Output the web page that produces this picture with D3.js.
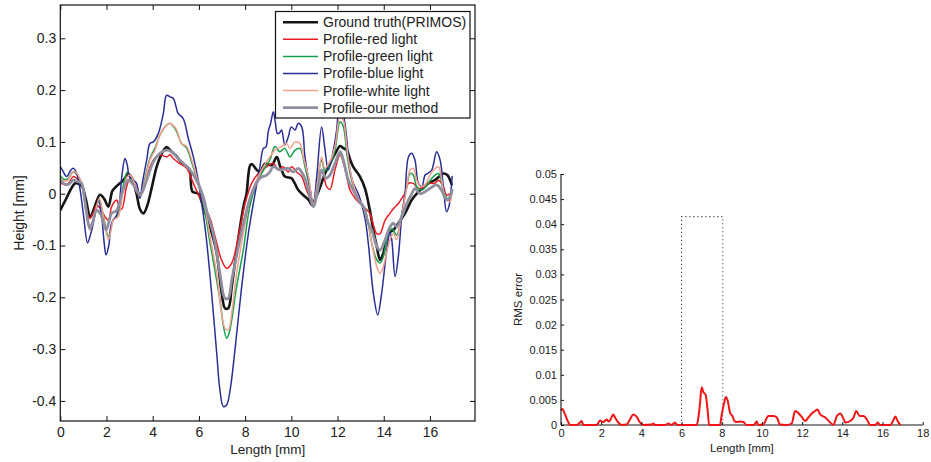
<!DOCTYPE html>
<html>
<head>
<meta charset="utf-8">
<script src="https://cdn.jsdelivr.net/npm/d3@7"></script>
<style>
  html, body { margin: 0; padding: 0; background: #fff; }
  svg { display: block; font-family: "Liberation Sans", Arial, sans-serif; }
  .tick text { fill: #222; }
</style>
</head>
<body>
<svg id="chart" width="931" height="462"></svg>
<script>
// ---- Profile data: [length (mm), height (mm)] ----
const groundTruth = [[0,-0.032],[0.25,-0.01],[0.5,0.012],[0.65,0.02],[0.92,0.015],[1.1,-0.01],[1.3,-0.045],[1.45,-0.03],[1.72,-0.002],[1.9,-0.01],[2.08,-0.025],[2.25,0.005],[2.4,0.013],[2.73,0.026],[2.95,0.038],[3.1,0.03],[3.3,0.0],[3.45,-0.03],[3.6,-0.038],[3.75,-0.025],[3.95,0.01],[4.17,0.052],[4.4,0.078],[4.6,0.09],[4.8,0.082],[5.04,0.072],[5.25,0.06],[5.47,0.052],[5.6,0.046],[5.72,0.004],[5.97,0.0],[6.15,-0.02],[6.33,-0.044],[6.55,-0.075],[6.77,-0.115],[6.98,-0.19],[7.13,-0.221],[7.27,-0.221],[7.42,-0.18],[7.6,-0.12],[7.78,-0.064],[7.95,-0.02],[8.06,0.0],[8.15,0.04],[8.22,0.055],[8.3,0.057],[8.5,0.046],[8.65,0.042],[8.86,0.058],[9.15,0.055],[9.37,0.071],[9.5,0.055],[9.58,0.046],[9.72,0.033],[10.0,0.03],[10.15,0.02],[10.3,0.007],[10.6,-0.006],[10.75,-0.012],[10.9,-0.022],[11.05,-0.008],[11.2,0.007],[11.46,0.039],[11.75,0.065],[11.95,0.082],[12.11,0.092],[12.25,0.088],[12.4,0.084],[12.55,0.065],[12.68,0.052],[12.97,0.033],[13.19,0.01],[13.4,-0.032],[13.55,-0.07],[13.7,-0.102],[13.84,-0.128],[13.98,-0.115],[14.2,-0.077],[14.42,-0.07],[14.63,-0.057],[14.92,-0.038],[15.21,-0.012],[15.43,0.0],[15.65,0.01],[15.93,0.02],[16.2,0.026],[16.4,0.033],[16.58,0.039],[16.75,0.036],[16.94,0.018]];

const redLight = [[0,0.02],[0.2,0.018],[0.35,0.02],[0.56,0.033],[0.7,0.03],[0.92,0.02],[1.05,-0.01],[1.21,-0.044],[1.28,-0.048],[1.45,-0.035],[1.57,-0.022],[1.75,-0.03],[1.93,-0.044],[2.08,-0.051],[2.22,-0.025],[2.35,-0.015],[2.44,-0.012],[2.55,-0.025],[2.66,-0.03],[2.87,0.0135],[3.02,0.03],[3.2,0.02],[3.45,0.0],[3.74,0.033],[4.03,0.065],[4.31,0.075],[4.6,0.071],[4.75,0.075],[4.89,0.068],[5.18,0.058],[5.47,0.049],[5.76,0.02],[6.05,-0.008],[6.33,-0.032],[6.5,-0.05],[6.7,-0.083],[6.98,-0.128],[7.2,-0.144],[7.42,-0.134],[7.71,-0.083],[8.0,-0.019],[8.28,0.02],[8.57,0.039],[8.93,0.052],[9.22,0.0586],[9.44,0.046],[9.65,0.052],[9.87,0.042],[10.01,0.052],[10.23,0.042],[10.45,0.033],[10.66,0.007],[10.95,-0.019],[11.1,0.0135],[11.31,0.046],[11.53,0.0135],[11.67,0.008],[11.89,0.046],[12.11,0.075],[12.25,0.06],[12.4,0.033],[12.54,0.007],[12.76,-0.009],[12.97,-0.019],[13.19,-0.028],[13.4,-0.038],[13.55,-0.06],[13.7,-0.077],[13.84,-0.077],[14.06,-0.051],[14.27,-0.038],[14.4,-0.03],[14.5,-0.025],[14.63,-0.019],[14.78,-0.009],[14.92,0.0],[15.07,0.02],[15.28,0.02],[15.5,0.01],[15.7,0.012],[15.93,0.02],[16.2,0.02],[16.37,0.026],[16.58,0.0135],[16.72,-0.003],[16.87,0.0]];

const greenLight = [[0,0.035],[0.15,0.028],[0.3,0.028],[0.56,0.042],[0.7,0.038],[0.92,0.02],[1.1,-0.03],[1.28,-0.064],[1.4,-0.055],[1.5,-0.038],[1.69,-0.012],[1.85,-0.04],[2.08,-0.083],[2.2,-0.065],[2.29,-0.05],[2.51,-0.041],[2.7,0.01],[2.9,0.042],[3.02,0.033],[3.3,0.008],[3.45,-0.003],[3.67,0.03],[3.88,0.068],[4.1,0.088],[4.31,0.113],[4.53,0.129],[4.75,0.136],[4.89,0.13],[5.04,0.12],[5.25,0.097],[5.47,0.088],[5.69,0.06],[5.9,0.03],[6.12,-0.005],[6.3,-0.045],[6.48,-0.095],[6.7,-0.15],[6.91,-0.205],[7.06,-0.255],[7.2,-0.279],[7.3,-0.27],[7.42,-0.244],[7.63,-0.18],[7.92,-0.109],[8.2,-0.025],[8.5,0.02],[8.79,0.045],[9.07,0.065],[9.29,0.091],[9.5,0.081],[9.72,0.0875],[9.94,0.071],[10.16,0.084],[10.37,0.0875],[10.59,0.052],[10.78,0.015],[10.95,-0.022],[11.15,0.03],[11.31,0.065],[11.45,0.045],[11.67,0.055],[11.89,0.084],[12.11,0.139],[12.25,0.13],[12.4,0.078],[12.54,0.04],[12.76,0.005],[12.97,-0.015],[13.19,-0.03],[13.3,-0.05],[13.5,-0.1],[13.7,-0.128],[13.84,-0.134],[13.98,-0.122],[14.2,-0.077],[14.35,-0.067],[14.56,-0.08],[14.78,-0.038],[15.0,0.0135],[15.14,0.039],[15.28,0.036],[15.43,0.0135],[15.65,0.007],[15.85,0.015],[16.08,0.03],[16.37,0.039],[16.58,0.007],[16.8,-0.012],[16.94,0.0]];

const blueLight = [[0,0.052],[0.1,0.045],[0.27,0.033],[0.45,0.045],[0.56,0.049],[0.7,0.04],[0.85,0.01],[1.0,-0.04],[1.18,-0.095],[1.3,-0.08],[1.43,-0.057],[1.55,-0.03],[1.65,-0.012],[1.79,-0.044],[1.9,-0.095],[1.98,-0.118],[2.1,-0.1],[2.22,-0.057],[2.44,-0.041],[2.55,-0.02],[2.68,0.04],[2.8,0.068],[2.9,0.055],[2.99,0.033],[3.15,0.027],[3.3,0.02],[3.45,-0.009],[3.55,0.02],[3.74,0.065],[3.88,0.097],[4.03,0.1],[4.24,0.116],[4.46,0.155],[4.6,0.19],[4.75,0.187],[4.89,0.184],[5.0,0.17],[5.1,0.155],[5.32,0.145],[5.54,0.107],[5.76,0.071],[5.97,0.026],[6.19,-0.04],[6.33,-0.09],[6.55,-0.192],[6.77,-0.308],[6.91,-0.379],[7.06,-0.411],[7.2,-0.408],[7.35,-0.379],[7.56,-0.302],[7.85,-0.18],[8.14,-0.077],[8.43,0.0],[8.64,0.052],[8.79,0.0875],[8.9,0.09],[9.0,0.12],[9.1,0.135],[9.22,0.158],[9.3,0.14],[9.4,0.116],[9.5,0.118],[9.58,0.123],[9.72,0.094],[9.87,0.11],[10.0,0.129],[10.16,0.123],[10.3,0.136],[10.45,0.129],[10.59,0.071],[10.8,0.0135],[10.95,-0.022],[11.1,0.033],[11.31,0.129],[11.45,0.0875],[11.6,0.046],[11.82,0.084],[11.96,0.123],[12.05,0.16],[12.15,0.17],[12.32,0.136],[12.54,0.046],[12.68,0.02],[12.9,0.0],[13.19,-0.048],[13.33,-0.095],[13.55,-0.192],[13.74,-0.234],[13.91,-0.192],[14.13,-0.109],[14.27,-0.075],[14.35,-0.09],[14.49,-0.16],[14.63,-0.122],[14.78,-0.044],[14.92,0.0],[15.07,0.071],[15.21,0.078],[15.35,0.065],[15.5,0.02],[15.65,0.0135],[15.79,0.036],[15.93,0.04],[16.08,0.046],[16.29,0.081],[16.44,0.065],[16.58,0.0135],[16.72,-0.035],[16.82,-0.025],[16.9,0.0],[16.96,0.033]];

const whiteLight = [[0,0.03],[0.15,0.025],[0.3,0.025],[0.56,0.042],[0.7,0.04],[0.92,0.02],[1.1,-0.03],[1.28,-0.07],[1.4,-0.058],[1.5,-0.038],[1.69,-0.009],[1.85,-0.04],[2.08,-0.089],[2.2,-0.07],[2.29,-0.051],[2.51,-0.044],[2.7,0.0],[2.9,0.033],[3.02,0.036],[3.3,0.01],[3.45,-0.003],[3.67,0.026],[3.88,0.065],[4.1,0.084],[4.31,0.113],[4.53,0.129],[4.75,0.136],[4.89,0.132],[5.04,0.123],[5.25,0.097],[5.47,0.091],[5.69,0.065],[5.9,0.033],[6.12,0.0],[6.3,-0.035],[6.48,-0.083],[6.77,-0.154],[6.98,-0.231],[7.13,-0.26],[7.27,-0.263],[7.42,-0.231],[7.63,-0.154],[7.92,-0.077],[8.2,-0.012],[8.43,0.02],[8.64,0.039],[8.79,0.052],[9.07,0.071],[9.3,0.085],[9.58,0.091],[9.8,0.097],[9.94,0.0875],[10.16,0.1],[10.37,0.097],[10.52,0.071],[10.74,0.033],[10.95,-0.019],[11.17,0.033],[11.31,0.071],[11.45,0.049],[11.67,0.062],[11.89,0.091],[12.11,0.149],[12.25,0.142],[12.4,0.091],[12.54,0.046],[12.76,0.007],[12.97,-0.015],[13.19,-0.032],[13.3,-0.05],[13.5,-0.1],[13.7,-0.141],[13.84,-0.154],[13.98,-0.141],[14.27,-0.089],[14.42,-0.077],[14.56,-0.089],[14.71,-0.057],[14.85,-0.025],[15.0,0.0135],[15.14,0.046],[15.28,0.049],[15.43,0.026],[15.6,0.0135],[15.79,0.017],[16.0,0.036],[16.23,0.049],[16.37,0.052],[16.58,0.007],[16.72,-0.012],[16.87,-0.015],[16.94,0.0]];

const ourMethod = [[0,0.026],[0.2,0.018],[0.35,0.018],[0.56,0.026],[0.7,0.024],[0.92,0.02],[1.05,-0.01],[1.21,-0.057],[1.28,-0.067],[1.4,-0.055],[1.57,-0.032],[1.75,-0.04],[1.98,-0.07],[2.1,-0.055],[2.22,-0.038],[2.44,-0.032],[2.7,0.005],[2.94,0.026],[3.15,0.018],[3.45,-0.003],[3.74,0.026],[4.03,0.062],[4.31,0.078],[4.6,0.084],[4.82,0.081],[5.04,0.071],[5.32,0.0586],[5.61,0.046],[5.9,0.026],[6.19,-0.006],[6.33,-0.032],[6.62,-0.077],[6.91,-0.154],[7.13,-0.202],[7.27,-0.202],[7.42,-0.167],[7.71,-0.102],[8.0,-0.044],[8.28,0.0],[8.64,0.03],[8.93,0.036],[9.07,0.042],[9.22,0.052],[9.5,0.046],[9.87,0.049],[10.08,0.042],[10.3,0.049],[10.52,0.036],[10.74,0.007],[10.95,-0.025],[11.17,0.0135],[11.31,0.046],[11.5,0.03],[11.67,0.036],[11.89,0.0586],[12.11,0.081],[12.25,0.065],[12.47,0.026],[12.68,0.007],[12.9,-0.012],[13.12,-0.025],[13.33,-0.057],[13.48,-0.07],[13.7,-0.102],[13.84,-0.109],[14.06,-0.089],[14.27,-0.064],[14.42,-0.057],[14.56,-0.064],[14.78,-0.044],[15.0,-0.019],[15.21,0.0],[15.35,0.01],[15.57,0.0],[15.79,0.004],[16.0,0.01],[16.29,0.017],[16.5,0.007],[16.72,-0.012],[16.87,-0.006],[16.96,0.007]];

// ---- RMS error of our method along the profile ----
const rmsError = [[0,0.0029],[0.07,0.0032],[0.2,0.0021],[0.37,0.0005],[0.45,0],[0.78,0],[0.95,0.0005],[1.03,0.0008],[1.11,0],[1.78,0],[1.94,0.0009],[2.1,0.0006],[2.27,0.0011],[2.36,0.0007],[2.44,0.0009],[2.6,0.0021],[2.69,0.0015],[2.85,0.0005],[3.02,0],[3.27,0.0001],[3.43,0.0011],[3.6,0.0021],[3.77,0.0016],[3.93,0.0005],[4.1,0],[4.51,0.0001],[4.6,0.0003],[4.68,0],[5.18,0],[5.34,0.0003],[5.5,0],[5.67,0.0005],[5.8,0],[6.75,0],[6.84,0.0015],[6.92,0.0044],[7.0,0.0075],[7.08,0.0066],[7.2,0.006],[7.3,0.0028],[7.37,0],[7.91,0],[8.0,0.0021],[8.13,0.0046],[8.21,0.0056],[8.3,0.0048],[8.41,0.0025],[8.53,0.0018],[8.63,0.0008],[8.74,0.0006],[8.91,0.0007],[9.08,0.0006],[9.24,0],[9.6,0],[9.74,0.0007],[9.82,0],[10.07,0.0001],[10.32,0.0018],[10.57,0.0018],[10.74,0.0015],[10.9,0.0001],[11.23,0],[11.48,0.0003],[11.65,0.0028],[11.81,0.0024],[11.98,0.0016],[12.15,0.0008],[12.31,0.0015],[12.48,0.0023],[12.65,0.0028],[12.76,0.0031],[12.9,0.0021],[13.15,0.0015],[13.4,0.0005],[13.56,0],[13.73,0.0018],[13.9,0.0023],[14.03,0.0015],[14.15,0.0005],[14.4,0.0008],[14.56,0.0015],[14.69,0.0028],[14.86,0.0018],[15.06,0.0018],[15.22,0.0011],[15.39,0],[15.64,0],[15.76,0.0005],[15.89,0],[16.39,0],[16.52,0.0008],[16.64,0.0017],[16.75,0.0008],[16.89,0]];

// Highlighted region around the deepest groove
const grooveSpan = [6, 8.05];
const grooveTop = 0.0415;

// ---- Axis ticks and labels ----
const profileXTicks = [0, 2, 4, 6, 8, 10, 12, 14, 16];
const profileYTicks = [-0.4, -0.3, -0.2, -0.1, 0, 0.1, 0.2, 0.3];
const profileYLabels = ["-0.4", "-0.3", "-0.2", "-0.1", "0", "0.1", "0.2", "0.3"];
const rmsXTicks = [0, 2, 4, 6, 8, 10, 12, 14, 16, 18];
const rmsYTicks = [0, 0.005, 0.01, 0.015, 0.02, 0.025, 0.03, 0.035, 0.04, 0.045, 0.05];
const rmsYLabels = ["0", "0.005", "0.01", "0.015", "0.02", "0.025", "0.03", "0.035", "0.04", "0.045", "0.05"];

const seriesNames = ["Ground truth(PRIMOS)", "Profile-red light", "Profile-green light", "Profile-blue light", "Profile-white light", "Profile-our method"];
const seriesData = [groundTruth, redLight, greenLight, blueLight, whiteLight, ourMethod];
const seriesColors = ["#151515", "#ec1c24", "#12a04a", "#2a2f95", "#f5a08e", "#8f8f9f"];
const seriesWidths = [2.6, 1.5, 1.5, 1.5, 1.5, 2.8];

const svg = d3.select("#chart");

// ================= Left panel: height profiles =================
const xL = d3.scaleLinear().domain([0, 17.95]).range([60.3, 475]);
const yL = d3.scaleLinear().domain([-0.4388, 0.3643]).range([421, 5]);

const left = svg.append("g");
left.append("defs").append("clipPath").attr("id", "clipL")
  .append("rect")
  .attr("x", xL.range()[0]).attr("y", yL.range()[1])
  .attr("width", xL.range()[1] - xL.range()[0])
  .attr("height", yL.range()[0] - yL.range()[1]);

const lineL = d3.line()
  .x(d => xL(d[0])).y(d => yL(d[1]))
  .curve(d3.curveCatmullRom.alpha(0.5));

const plotL = left.append("g").attr("clip-path", "url(#clipL)");
seriesData.forEach((data, i) => {
  plotL.append("path")
    .datum(data)
    .attr("d", lineL)
    .attr("fill", "none")
    .attr("stroke", seriesColors[i])
    .attr("stroke-width", seriesWidths[i])
    .attr("stroke-linejoin", "round")
    .attr("stroke-linecap", "round");
});

function styleAxis(g, fontSize) {
  g.select(".domain").remove();
  g.selectAll(".tick line").attr("stroke", "#111").attr("stroke-width", 1);
  g.selectAll(".tick text").attr("font-size", fontSize).attr("fill", "#222");
}

// bottom / left with labels, top / right mirrored ticks only
left.append("g").attr("transform", `translate(0,${yL.range()[0]})`)
  .call(d3.axisBottom(xL).tickValues(profileXTicks).tickFormat(d3.format("d"))
    .tickSizeInner(-5).tickSizeOuter(0).tickPadding(6))
  .call(g => styleAxis(g, 14))
  .call(g => g.attr("font-family", null));
left.append("g").attr("transform", `translate(${xL.range()[0]},0)`)
  .call(d3.axisLeft(yL).tickValues(profileYTicks).tickFormat((d, i) => profileYLabels[i])
    .tickSizeInner(-5).tickSizeOuter(0).tickPadding(4))
  .call(g => styleAxis(g, 14))
  .call(g => g.attr("font-family", null));
left.append("g").attr("transform", `translate(0,${yL.range()[1]})`)
  .call(d3.axisTop(xL).tickValues(profileXTicks).tickFormat("").tickSizeInner(-5).tickSizeOuter(0))
  .call(g => styleAxis(g, 14));
left.append("g").attr("transform", `translate(${xL.range()[1]},0)`)
  .call(d3.axisRight(yL).tickValues(profileYTicks).tickFormat("").tickSizeInner(-5).tickSizeOuter(0))
  .call(g => styleAxis(g, 14));

left.append("rect")
  .attr("x", xL.range()[0]).attr("y", yL.range()[1])
  .attr("width", xL.range()[1] - xL.range()[0])
  .attr("height", yL.range()[0] - yL.range()[1])
  .attr("fill", "none").attr("stroke", "#111").attr("stroke-width", 1.2);

left.append("text")
  .attr("x", (xL.range()[0] + xL.range()[1]) / 2).attr("y", 454)
  .attr("text-anchor", "middle").attr("font-size", 13.5).attr("fill", "#222")
  .text("Length [mm]");
left.append("text")
  .attr("transform", `translate(24,${(yL.range()[0] + yL.range()[1]) / 2}) rotate(-90)`)
  .attr("text-anchor", "middle").attr("font-size", 14).attr("fill", "#222")
  .text("Height [mm]");

// legend
const legend = left.append("g");
legend.append("rect")
  .attr("x", 275.5).attr("y", 11.5).attr("width", 194.5).attr("height", 106.5)
  .attr("fill", "#fff").attr("stroke", "#111").attr("stroke-width", 1.2);
seriesNames.forEach((name, i) => {
  const cy = 22.3 + i * 17.05;
  legend.append("line")
    .attr("x1", 283).attr("x2", 318).attr("y1", cy).attr("y2", cy)
    .attr("stroke", seriesColors[i]).attr("stroke-width", seriesWidths[i]);
  legend.append("text")
    .attr("x", 323).attr("y", cy).attr("dy", "0.36em")
    .attr("font-size", 14).attr("fill", "#222")
    .text(name);
});

// ================= Right panel: RMS error =================
const xR = d3.scaleLinear().domain([0, 18]).range([561, 922.7]);
const yR = d3.scaleLinear().domain([0, 0.05]).range([425, 174]);

const right = svg.append("g");

// dotted frame around the groove
right.append("path")
  .attr("d", `M${xR(grooveSpan[0])},${yR(0)}V${yR(grooveTop)}H${xR(grooveSpan[1])}V${yR(0)}Z`)
  .attr("fill", "none").attr("stroke", "#444").attr("stroke-width", 1.1)
  .attr("stroke-dasharray", "1.2,2.8");

// x axis baseline (grey) and y axis line
right.append("line")
  .attr("x1", xR.range()[0]).attr("x2", xR.range()[1])
  .attr("y1", yR(0)).attr("y2", yR(0))
  .attr("stroke", "#8a8a8a").attr("stroke-width", 2);

right.append("path")
  .datum(rmsError)
  .attr("d", d3.line().x(d => xR(d[0])).y(d => yR(d[1])).curve(d3.curveMonotoneX))
  .attr("fill", "none").attr("stroke", "#f21416").attr("stroke-width", 2)
  .attr("stroke-linejoin", "round");

right.append("g").attr("transform", `translate(0,${yR.range()[0]})`)
  .call(d3.axisBottom(xR).tickValues(rmsXTicks).tickFormat(d3.format("d"))
    .tickSizeInner(-3).tickSizeOuter(0).tickPadding(4))
  .call(g => styleAxis(g, 11))
  .call(g => g.attr("font-family", null));
right.append("g").attr("transform", `translate(${xR.range()[0]},0)`)
  .call(d3.axisLeft(yR).tickValues(rmsYTicks).tickFormat((d, i) => rmsYLabels[i])
    .tickSizeInner(-3).tickSizeOuter(0).tickPadding(4))
  .call(g => styleAxis(g, 11))
  .call(g => g.attr("font-family", null));
right.append("line")
  .attr("x1", xR.range()[0]).attr("x2", xR.range()[0])
  .attr("y1", yR.range()[0]).attr("y2", yR.range()[1])
  .attr("stroke", "#111").attr("stroke-width", 1.1);

right.append("text")
  .attr("x", (xR.range()[0] + xR.range()[1]) / 2).attr("y", 452)
  .attr("text-anchor", "middle").attr("font-size", 11.5).attr("fill", "#222")
  .text("Length [mm]");
right.append("text")
  .attr("transform", `translate(522,${(yR.range()[0] + yR.range()[1]) / 2}) rotate(-90)`)
  .attr("text-anchor", "middle").attr("font-size", 11.5).attr("fill", "#222")
  .text("RMS error");
</script>
</body>
</html>
